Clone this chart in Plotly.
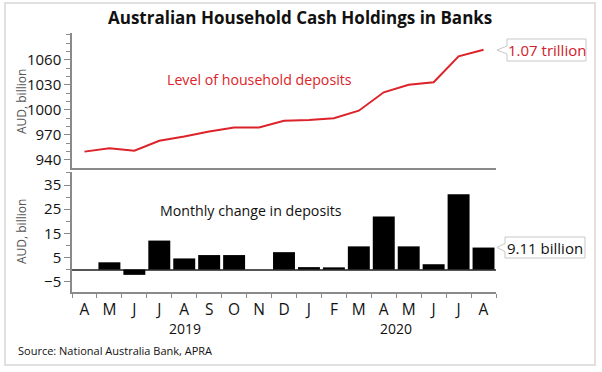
import plotly.graph_objects as go
from plotly.subplots import make_subplots

months = ["Apr19", "May19", "Jun19", "Jul19", "Aug19", "Sep19", "Oct19", "Nov19", "Dec19",
          "Jan20", "Feb20", "Mar20", "Apr20", "May20", "Jun20", "Jul20", "Aug20"]
month_labels = ["A", "M", "J", "J", "A", "S", "O", "N", "D", "J", "F", "M", "A", "M", "J", "J", "A"]
deposits_level = [950, 954, 951, 963, 968, 974, 979, 979, 987, 988, 990, 999, 1021, 1030, 1033, 1064, 1072]
monthly_change = [0, 3, -2.2, 12, 4.6, 6, 6, 0, 7.2, 1, 0.9, 9.6, 22, 9.6, 2.2, 31.2, 9.11]
level_ticks = [940, 970, 1000, 1030, 1060]
change_ticks = [-5, 5, 15, 25, 35]

W, H = 602, 372
L, R, T, B = 72, 106, 33, 80
PW, PH = W - L - R, H - T - B

def px(x):
    return (x - L) / PW

def py(y):
    return (H - B - y) / PH

fig = make_subplots(rows=2, cols=1, shared_xaxes=True, vertical_spacing=0.0)

fig.add_trace(go.Scatter(x=months, y=deposits_level, mode="lines",
                         line=dict(color="#dc2329", width=2), showlegend=False), row=1, col=1)
fig.add_trace(go.Bar(x=months, y=monthly_change, marker=dict(color="#000000", line=dict(width=0)),
                     width=0.88, showlegend=False), row=2, col=1)

GREY = "#8a8a8a"
fig.update_layout(
    width=W, height=H, margin=dict(l=L, r=R, t=T, b=B, autoexpand=False),
    paper_bgcolor="white", plot_bgcolor="white",
    font=dict(family="Open Sans", color="#111111"),
    bargap=0.12,
)
fig.update_layout(
    yaxis=dict(domain=[py(168), 1.0]),
    yaxis2=dict(domain=[0.0, py(172)]),
)

fig.update_xaxes(type="category", showgrid=False, showline=True, linecolor=GREY, linewidth=1.5,
                 range=[-0.5, 16.5], automargin=False)
fig.update_xaxes(showticklabels=False, ticks="", row=1, col=1)
fig.update_xaxes(tickmode="array", tickvals=months, ticktext=month_labels,
                 ticks="outside", tickson="boundaries", ticklen=4, tickcolor=GREY,
                 ticklabelstandoff=3,
                 tickfont=dict(size=15.5, color="#111111"), row=2, col=1)

fig.update_yaxes(showgrid=False, showline=True, linecolor=GREY, linewidth=1.5,
                 ticks="outside", ticklen=6, tickcolor=GREY, automargin=False,
                 tickfont=dict(size=15, color="#111111"))
fig.update_yaxes(range=[930.4, 1092], tickmode="array", tickvals=level_ticks,
                 minor=dict(dtick=10, tick0=940, ticks="outside", ticklen=4, tickcolor=GREY),
                 zeroline=False, row=1, col=1)
fig.update_yaxes(range=[-9.3, 40.4], tickmode="array", tickvals=change_ticks,
                 minor=dict(dtick=5, tick0=-5, ticks="outside", ticklen=4, tickcolor=GREY),
                 zeroline=True, zerolinecolor="#555555", zerolinewidth=1.5,
                 row=2, col=1)

def callout(x0, x1, y0, y1, tipx):
    ym = (y0 + y1) / 2
    pts = [(x0, y0), (x1, y0), (x1, y1), (x0, y1), (x0, ym + 4), (tipx, ym), (x0, ym - 4)]
    path = "M " + " L ".join(f"{px(a):.5f},{py(b):.5f}" for a, b in pts) + " Z"
    fig.add_shape(type="path", path=path, xref="paper", yref="paper",
                  fillcolor="white", line=dict(color="#c8c8c8", width=1))

callout(507, 586, 39, 61, 497)
callout(505, 585, 237, 258, 497)

# outer frame
fig.add_shape(type="rect", xref="paper", yref="paper", x0=px(5), x1=px(595), y0=py(365), y1=py(3),
              line=dict(color="#d6d6d6", width=1.5), fillcolor="rgba(0,0,0,0)", layer="below")

ann = [
    dict(text="<b>Australian Household Cash Holdings in Banks</b>", x=px(300), y=py(18),
         font=dict(size=17, color="#111111")),
    dict(text="Level of household deposits", x=px(259), y=py(79), font=dict(size=14.2, color="#dc2329")),
    dict(text="Monthly change in deposits", x=px(251), y=py(210), font=dict(size=14.2, color="#111111")),
    dict(text="1.07 trillion", x=px(546.5), y=py(50), font=dict(size=15, color="#d0202a")),
    dict(text="9.11 billion", x=px(545), y=py(247.5), font=dict(size=15, color="#111111")),
    dict(text="2019", x=px(185), y=py(328), font=dict(size=14, color="#111111")),
    dict(text="2020", x=px(396), y=py(328), font=dict(size=14, color="#111111")),
    dict(text="Source: National Australia Bank, APRA", x=px(16), y=py(350), xanchor="left",
         font=dict(size=11, color="#111111")),
    dict(text="AUD, billion", x=px(21), y=py(102), textangle=-90, font=dict(size=12, color="#555555")),
    dict(text="AUD, billion", x=px(21), y=py(232), textangle=-90, font=dict(size=12, color="#555555")),
]
for a in ann:
    a.setdefault("xanchor", "center")
    fig.add_annotation(xref="paper", yref="paper", yanchor="middle", showarrow=False, **a)

fig.write_html("out.html", config={"displayModeBar": False},
               post_script="document.body.style.margin='0';document.body.style.overflow='hidden';")
